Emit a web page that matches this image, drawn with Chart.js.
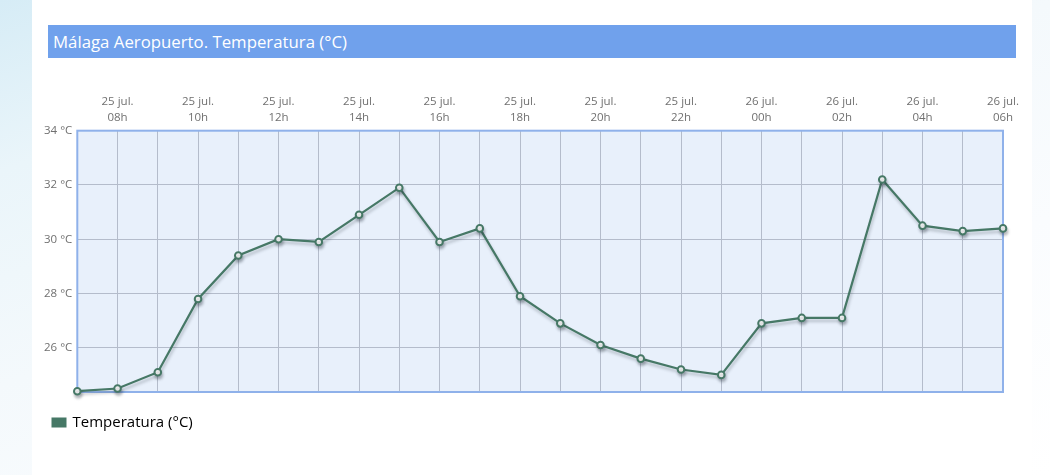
<!DOCTYPE html>
<html>
<head>
<meta charset="utf-8">
<script src="https://cdn.jsdelivr.net/npm/chart.js@4/dist/chart.umd.min.js"></script>
<style>
html,body{margin:0;padding:0;width:1050px;height:475px;overflow:hidden;font-family:"Open Sans",sans-serif;}
body{background:linear-gradient(160deg,#d6ecf6 0%,#eaf5fa 20%,#f4f9fc 45%,#fafcfe 70%,#ffffff 100%);}
#panel{position:absolute;left:32px;top:0;width:1000px;height:475px;background:#fff;}
#title{position:absolute;left:48px;top:25px;width:968px;height:33px;background:#70a1ec;color:#fff;font-size:16.8px;line-height:33px;padding-left:5px;box-sizing:border-box;white-space:nowrap;}
#wrap{position:absolute;left:0;top:0;width:1050px;height:475px;}
</style>
</head>
<body>
<div id="panel"></div>
<div id="title">Málaga Aeropuerto. Temperatura (°C)</div>
<div id="wrap"><canvas id="c"></canvas></div>
<script>
const days = ["25 jul.","25 jul.","25 jul.","25 jul.","25 jul.","25 jul.","25 jul.","25 jul.","25 jul.","25 jul.","25 jul.","25 jul.","25 jul.","25 jul.","25 jul.","25 jul.","25 jul.","26 jul.","26 jul.","26 jul.","26 jul.","26 jul.","26 jul.","26 jul."];
const hours = ["07h","08h","09h","10h","11h","12h","13h","14h","15h","16h","17h","18h","19h","20h","21h","22h","23h","00h","01h","02h","03h","04h","05h","06h"];
const temps = [24.4,24.5,25.1,27.8,29.4,30.0,29.9,30.9,31.9,29.9,30.4,27.9,26.9,26.1,25.6,25.2,25.0,26.9,27.1,27.1,32.2,30.5,30.3,30.4];
const yTicks = [26,28,30,32,34];
const seriesName = "Temperatura (°C)";

const labels = hours.map((h,i)=>[days[i],h]);

const areaPlugin = {
  id:'area',
  beforeDraw(chart){
    const {ctx, chartArea:a} = chart;
    ctx.save();
    ctx.fillStyle = '#e8f0fb';
    ctx.fillRect(a.left, a.top, a.right-a.left, a.bottom-a.top);
    ctx.restore();
  },
  beforeDatasetsDraw(chart){
    const {ctx, chartArea:a} = chart;
    ctx.save();
    ctx.strokeStyle = '#8fb1ea';
    ctx.lineWidth = 2;
    ctx.strokeRect(a.left, a.top, a.right-a.left, a.bottom-a.top);
    ctx.restore();
    ctx.save();
    ctx.shadowColor = 'rgba(40,50,60,0.28)';
    ctx.shadowBlur = 3;
    ctx.shadowOffsetX = 1;
    ctx.shadowOffsetY = 3;
  },
  afterDatasetsDraw(chart){
    chart.ctx.restore();
  }
};

new Chart(document.getElementById('c'), {
  type:'line',
  data:{
    labels: labels,
    datasets:[{
      label: seriesName,
      data: temps,
      borderColor:'#467866',
      backgroundColor:'#467866',
      borderWidth:2.2,
      pointRadius:3.3,
      pointBorderWidth:2,
      pointBackgroundColor:'#ffffff',
      pointBorderColor:'#467866',
      tension:0,
      fill:false,
      clip:false
    }]
  },
  options:{
    responsive:true,
    maintainAspectRatio:false,
    animation:false,
    layout:{padding:{left:30,right:47,top:92,bottom:35}},
    plugins:{
      tooltip:{enabled:false},
      legend:{
        position:'bottom',
        align:'start',
        labels:{
          boxWidth:12,
          boxHeight:7,
          padding:23,
          color:'#333',
          font:{family:'"Open Sans"',size:15},
          generateLabels(chart){
            return [{text:seriesName, fillStyle:'#467866', strokeStyle:'#467866', lineWidth:3, datasetIndex:0}];
          }
        }
      }
    },
    scales:{
      x:{
        type:'category',
        position:'top',
        offset:false,
        border:{display:false},
        grid:{color:'#b4bccb',lineWidth:1,tickLength:0,drawTicks:false},
        ticks:{
          autoSkip:false,
          maxRotation:0,
          padding:5,
          color:'#707070',
          font:{family:'"Open Sans"',size:11.5,lineHeight:1.4},
          callback(v,i){ return i%2===1 ? labels[i] : ''; }
        },
        afterFit(s){ s.height = 38.7; }
      },
      y:{
        min: Math.min(...temps)-0.03,
        max: 34,
        border:{display:false},
        grid:{color:'#b4bccb',lineWidth:1,tickLength:0,drawTicks:false},
        afterBuildTicks(s){ s.ticks = yTicks.map(v=>({value:v})); },
        ticks:{
          padding:5,
          color:'#707070',
          font:{family:'"Open Sans"',size:11.5},
          callback(v){ return v+' °C'; }
        },
        afterFit(s){ s.width = 47.3; }
      }
    }
  },
  plugins:[areaPlugin]
});
</script>
</body>
</html>
